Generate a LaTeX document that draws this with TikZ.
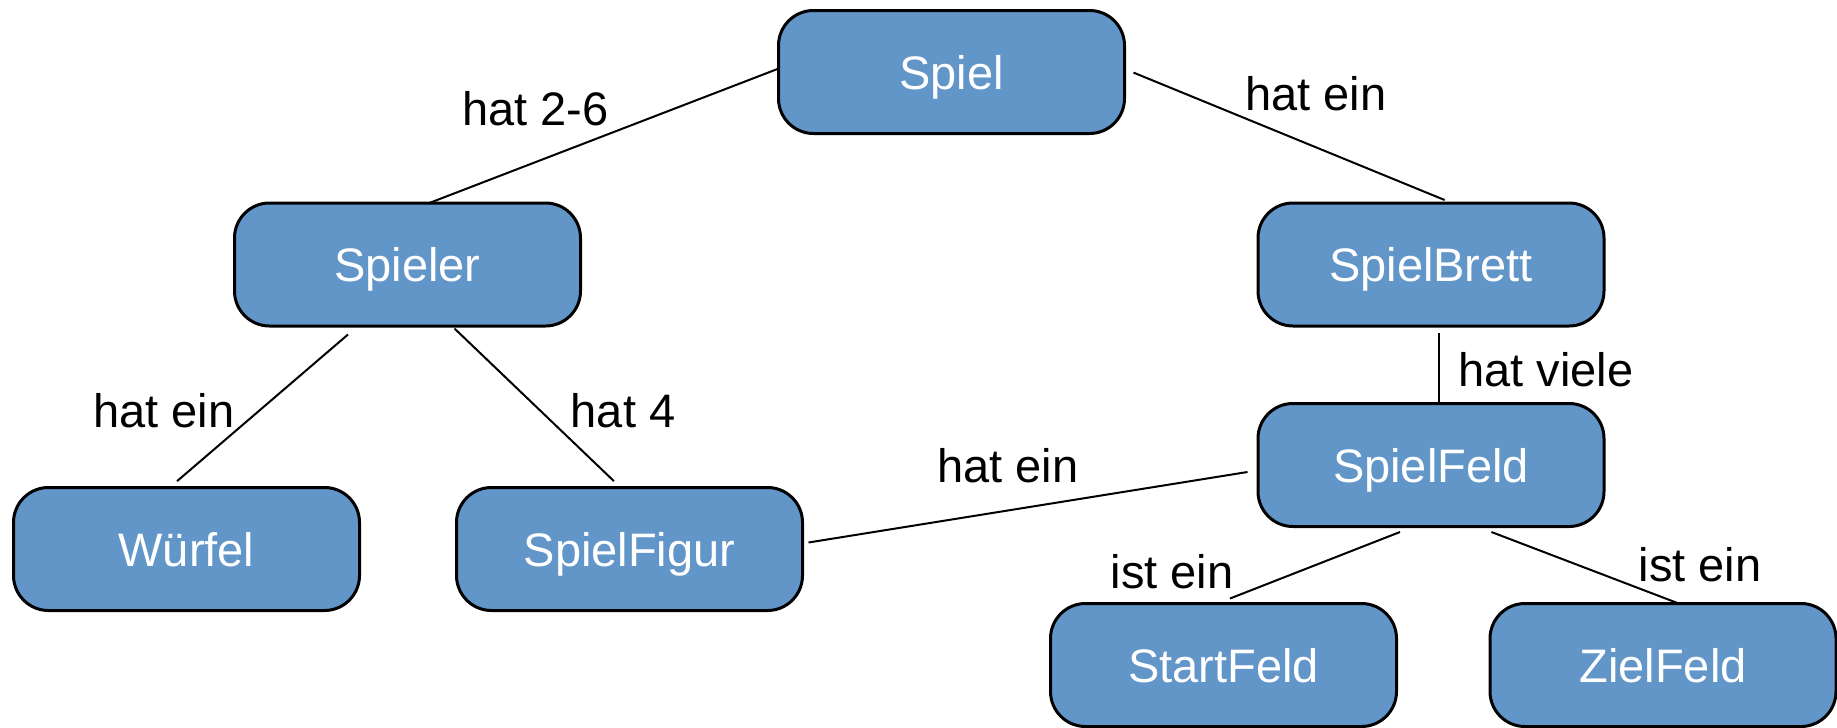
\documentclass[tikz,border=0pt]{standalone}
\usepackage{fontspec}
\setmainfont{Liberation Sans}
\usetikzlibrary{calc}
\definecolor{boxblue}{RGB}{98,150,201}
\begin{document}
\begin{tikzpicture}[x=1pt,y=-1pt,
  box/.style={draw=black,line width=3pt,fill=boxblue,rounded corners=35pt,
    minimum width=346pt,minimum height=123pt,inner sep=0pt,text=white,
    font=\fontsize{47}{56}\selectfont,text height=34pt,text depth=0pt},
  lbl/.style={font=\fontsize{47}{56}\selectfont,text height=34pt,text depth=0pt,inner sep=0pt},
  conn/.style={line width=2pt}]
\useasboundingbox (0,0) rectangle (1837,728);
\node[box] (spiel) at (951.5,72) {Spiel};
\node[box] (spieler) at (407.5,264.5) {Spieler};
\node[box] (brett) at (1431,264.5) {SpielBrett};
\node[box] (wuerfel) at (186.5,549) {Würfel};
\node[box] (figur) at (629.5,549) {SpielFigur};
\node[box] (feld) at (1431,465) {SpielFeld};
\node[box] (start) at (1223.5,665) {StartFeld};
\node[box] (ziel) at (1663,665) {ZielFeld};

\draw[conn] ($(spiel.west)+(0.5,-3)$) -- ($(spieler.north)+(20.5,2)$);
\draw[conn] ($(spiel.east)+(7.5,0.6)$) -- ($(brett.north)+(13.6,-1.5)$);
\draw[conn] ($(brett.south)+(7.7,5.5)$) -- ($(feld.north)+(7.7,1.5)$);
\draw[conn] ($(spieler.south)+(-59.5,7)$) -- ($(wuerfel.north)+(-9.5,-4.8)$);
\draw[conn] ($(spieler.south)+(47,1)$) -- ($(figur.north)+(-15.5,-4.8)$);
\draw[conn] ($(feld.west)+(-9,7)$) -- ($(figur.east)+(4.5,-6.5)$);
\draw[conn] ($(feld.south)+(-31,4)$) -- ($(start.north)+(6.5,-3.5)$);
\draw[conn] ($(feld.south)+(60.4,4)$) -- ($(ziel.north)+(17,2)$);

\node[lbl] (l1) at (535.5,108) {hat 2-6};
\node[lbl] (l2) at (1316,93) {hat ein};
\node[lbl] (l3) at (1546,369) {hat viele};
\node[lbl] (l4) at (164,410) {hat ein};
\node[lbl] (l5) at (623,410) {hat 4};
\node[lbl] (l6) at (1008,465) {hat ein};
\node[lbl] (l7) at (1172,571) {ist ein};
\node[lbl] (l8) at (1700,564) {ist ein};
\end{tikzpicture}
\end{document}
